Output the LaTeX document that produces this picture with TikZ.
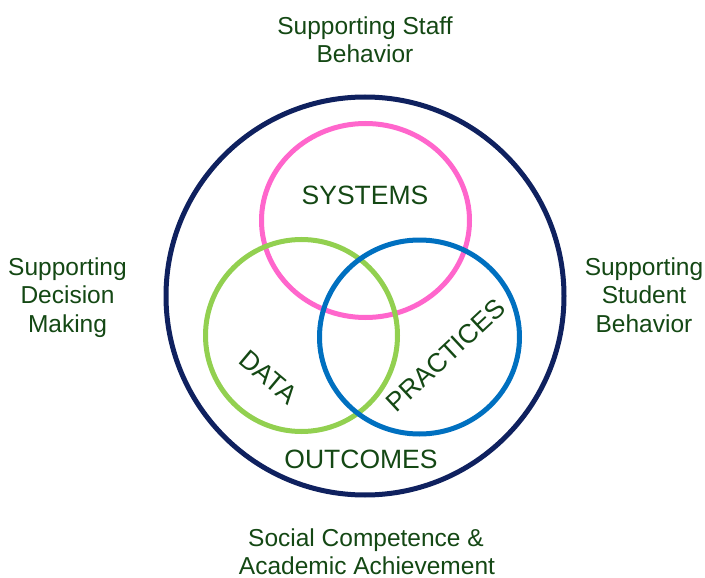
\documentclass[tikz,border=0pt]{standalone}
\usepackage{fontspec}
\setmainfont{Liberation Sans}
\usetikzlibrary{shapes.geometric}
\definecolor{navyc}{RGB}{15,33,95}
\definecolor{pinkc}{RGB}{255,102,204}
\definecolor{greenc}{RGB}{146,208,80}
\definecolor{bluec}{RGB}{0,112,192}
\definecolor{textc}{RGB}{20,72,20}
\begin{document}
\begin{tikzpicture}[x=1pt,y=-1pt,
  ring/.style={ellipse,line width=5pt,inner sep=0pt,outer sep=0pt},
  outerlbl/.style={anchor=base,inner sep=0pt,text=textc,font=\fontsize{24.5}{28.5}\selectfont},
  innerlbl/.style={anchor=center,inner sep=0pt,text=textc,font=\fontsize{26.5}{30}\selectfont}]
\useasboundingbox[fill=white] (0,0) rectangle (705,578);
% outer circle
\node[circle,draw=navyc,line width=5pt,minimum size=398pt,inner sep=0pt] (outer) at (365,296) {};
% three rings
\node[ring,draw=pinkc,minimum width=208pt,minimum height=194pt] (systems) at (365.5,220.5) {};
\node[ring,draw=greenc,minimum width=192pt,minimum height=192pt] (data) at (301.5,335.5) {};
\node[ring,draw=bluec,minimum width=200pt,minimum height=194pt] (practices) at (419.5,337) {};
% inner labels
\node[innerlbl] (tsys) at (365,195) {SYSTEMS};
\node[innerlbl,rotate=-40] (tdata) at (268.5,377) {DATA};
\node[innerlbl,rotate=43] (tprac) at (445.5,355.5) {PRACTICES};
\node[innerlbl] (tout) at (361,459.5) {OUTCOMES};
% outer labels
\node[outerlbl] (top1) at (365,35) {Supporting Staff};
\node[outerlbl] (top2) at (365,63) {Behavior};
\node[outerlbl] (left1) at (67.5,275) {Supporting};
\node[outerlbl] (left2) at (67.5,303.5) {Decision};
\node[outerlbl] (left3) at (67.5,332) {Making};
\node[outerlbl] (right1) at (644,275) {Supporting};
\node[outerlbl] (right2) at (644,303.5) {Student};
\node[outerlbl] (right3) at (644,332) {Behavior};
\node[outerlbl] (bot1) at (366,546) {Social Competence \&};
\node[outerlbl] (bot2) at (367,574.5) {Academic Achievement};
\end{tikzpicture}
\end{document}
